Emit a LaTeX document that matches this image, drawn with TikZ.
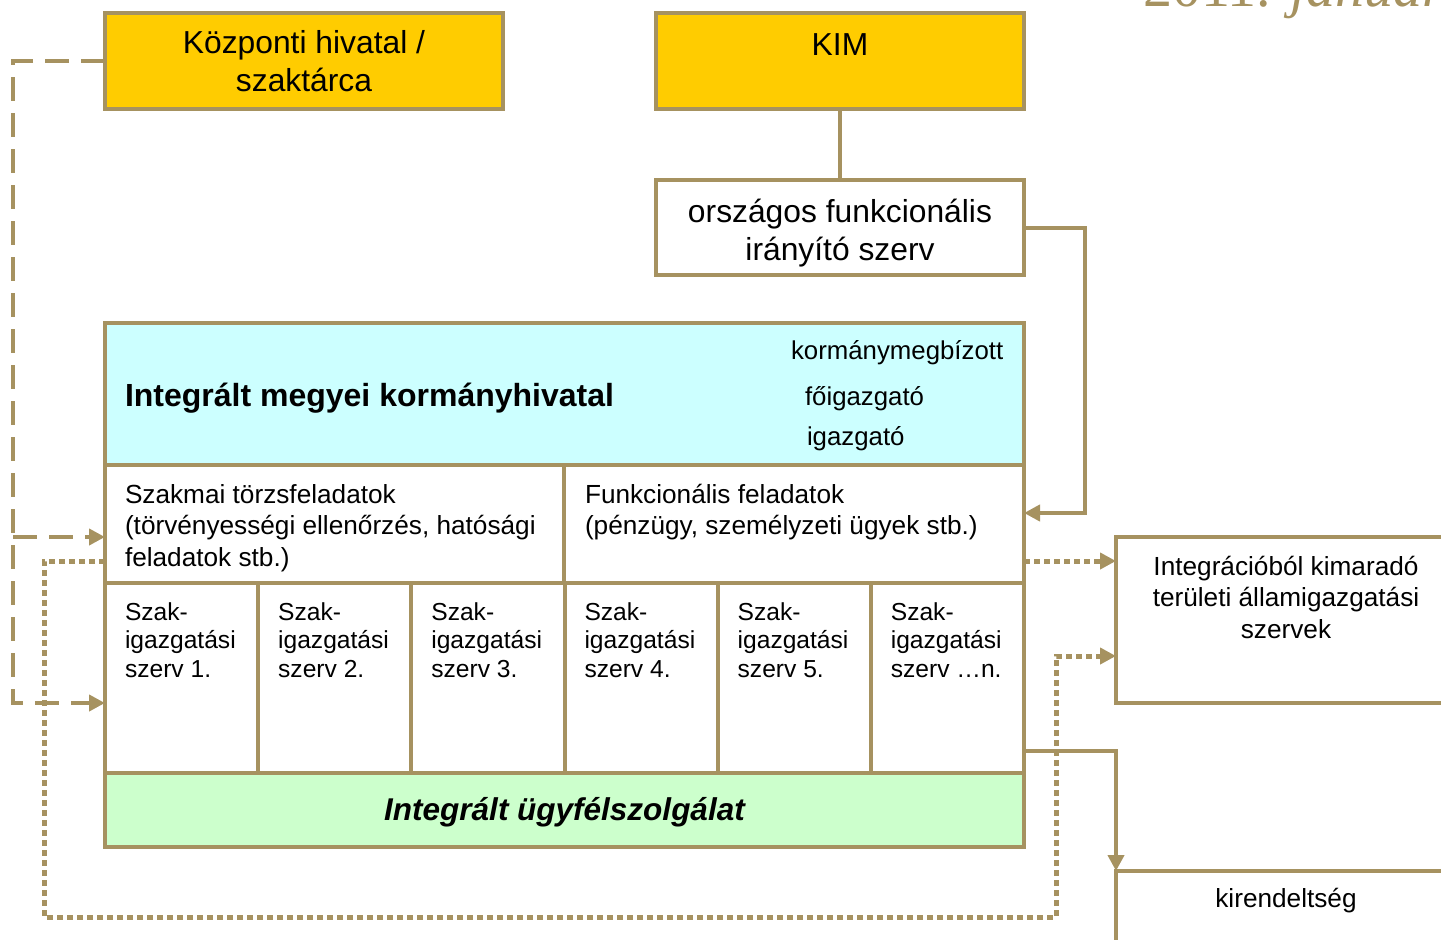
\documentclass[tikz,border=0pt]{standalone}
\usepackage{fontspec}
\setmainfont{Liberation Sans}
\newfontfamily\datefont{Liberation Serif}
\usetikzlibrary{calc, positioning, arrows.meta}
\definecolor{gold}{RGB}{166,146,96}
\definecolor{kimyellow}{RGB}{255,204,0}
\definecolor{hdrcyan}{RGB}{204,255,255}
\definecolor{ugygreen}{RGB}{204,255,204}
\newcommand{\boxfont}{\fontsize{31.8}{37.5}\selectfont}
\newcommand{\cellfont}{\fontsize{26.2}{31.7}\selectfont}
\newcommand{\colfont}{\fontsize{24.6}{28.5}\selectfont}
\newcommand{\rankfont}{\fontsize{25.8}{30}\selectfont}
\tikzset{ box/.style = {draw=gold, line width=4pt, rectangle, inner sep=0pt, outer sep=0pt, anchor=north west},
  txt/.style = {inner sep=0pt, outer sep=0pt},
  conn/.style = {draw=gold, line width=4pt},
  tip/.style = {-{Triangle[length=16pt, width=16pt]}},
  dashline/.style = {conn, dash pattern=on 24pt off 12pt},
  dotline/.style = {conn, line width=5pt, dash pattern=on 6pt off 4pt} }

\begin{document}
\begin{tikzpicture}[x=1pt, y=-1pt]
  \useasboundingbox (0,0) rectangle (1441,940);
  \node[txt, anchor=base west, text=gold, font=\datefont\fontsize{58}{60}\selectfont] (datum) at (1143,6) {2011. \textit{január}};

  % top boxes
  \node[box, fill=kimyellow, minimum width=398pt, minimum height=96pt, font=\boxfont, align=center] (kozp) at (105,13) {Központi hivatal /\\szaktárca};
  \node[box, fill=kimyellow, minimum width=368pt, minimum height=96pt] (kim) at (656,13) {};
  \node[txt, anchor=base, font=\boxfont] (kimtxt) at ([yshift=-42pt]kim.north) {KIM};
  \node[box, fill=white, minimum width=368pt, minimum height=95pt] (orsz) at (656,180) {};
  \node[txt, anchor=base, font=\boxfont, align=center] (orsztxt) at ([yshift=-80pt]orsz.north) {országos funkcionális\\irányító szerv};

  % megyei kormanyhivatal
  \node[box, fill=hdrcyan, minimum width=919pt, minimum height=142pt] (hdr) at (105,323) {};
  \node[txt, anchor=base west, font=\fontsize{32}{38}\selectfont\bfseries] (hdrtxt) at ([xshift=20pt, yshift=-83pt]hdr.north west) {Integrált megyei kormányhivatal};
  \node[txt, anchor=base west, font=\rankfont] (kmb) at ([xshift=686pt, yshift=-36pt]hdr.north west) {kormánymegbízott};
  \node[txt, anchor=base west, font=\rankfont] (figt) at ([xshift=700pt, yshift=-82pt]hdr.north west) {főigazgató};
  \node[txt, anchor=base west, font=\rankfont] (igt) at ([xshift=702pt, yshift=-122pt]hdr.north west) {igazgató};

  \node[box, minimum width=459pt, minimum height=118pt] (szakm) at (hdr.south west) {};
  \node[box, minimum width=460pt, minimum height=118pt] (funk) at (szakm.north east) {};
  \node[txt, anchor=base west, font=\cellfont, align=left] (szakmtxt) at ([xshift=20pt, yshift=-101.4pt]szakm.north west) {Szakmai törzsfeladatok\\(törvényességi ellenőrzés, hatósági\\feladatok stb.)};
  \node[txt, anchor=base west, font=\cellfont, align=left] (funktxt) at ([xshift=21pt, yshift=-69.7pt]funk.north west) {Funkcionális feladatok\\(pénzügy, személyzeti ügyek stb.)};

  \foreach \lbl [count=\i] in {1.,2.,3.,4.,5.,…n.} {
    \node[box, minimum width=153.17pt, minimum height=190pt] (sz\i) at ($(szakm.south west)+({(\i-1)*153.17},0)$) {};
    \node[txt, anchor=base west, font=\colfont, align=left] (szt\i) at ([xshift=20pt, yshift=-94pt]sz\i.north west) {Szak-\\igazgatási\\szerv \lbl};
  }

  \node[box, fill=ugygreen, minimum width=919pt, minimum height=74pt] (ugy) at (sz1.south west) {};
  \node[txt, anchor=base, font=\fontsize{31.5}{37}\selectfont\bfseries\itshape] (ugytxt) at ([yshift=-47pt]ugy.north) {Integrált ügyfélszolgálat};

  % right boxes
  \node[box, fill=white, minimum width=340pt, minimum height=166pt] (integ) at (1116,537) {};
  \node[txt, anchor=base, font=\cellfont, align=center] (integtxt) at ([yshift=-101.4pt]integ.north) {Integrációból kimaradó\\területi államigazgatási\\szervek};
  \node[box, fill=white, minimum width=340pt, minimum height=100pt] (kir) at (1116,871) {};
  \node[txt, anchor=base, font=\cellfont] (kirtxt) at ([yshift=-36pt]kir.north) {kirendeltség};

  % connectors
  \coordinate (fin) at ([yshift=11pt]funk.east);
  \coordinate (kout) at ([yshift=-73pt]sz6.east);
  \draw[conn] (kim) -- (orsz);
  \draw[conn, tip] (orsz.east) -- ++(61,0) |- (fin);
  \draw[conn, tip] (kout) -| (kir.north west);

  \coordinate (fout) at ([yshift=-37pt]funk.east);
  \coordinate (sout) at ([yshift=-37pt]szakm.west);
  \coordinate (iin) at ([yshift=-36pt]integ.west);
  \draw[dotline, tip] (fout) -- (fout -| integ.west);
  \draw[dotline, tip] (sout) -- ++(-61,0) |- (1056,917) |- (iin);

  \coordinate (dk) at ([xshift=-92pt]kozp.west);
  \coordinate (din1) at ([yshift=-13pt]szakm.west);
  \coordinate (din2) at ([yshift=-25pt]sz1.west);
  \draw[dashline, tip] (kozp.west) -- (dk) |- (din2);
  \draw[dashline, tip] (dk |- din1) -- (din1);
\end{tikzpicture}
\end{document}
